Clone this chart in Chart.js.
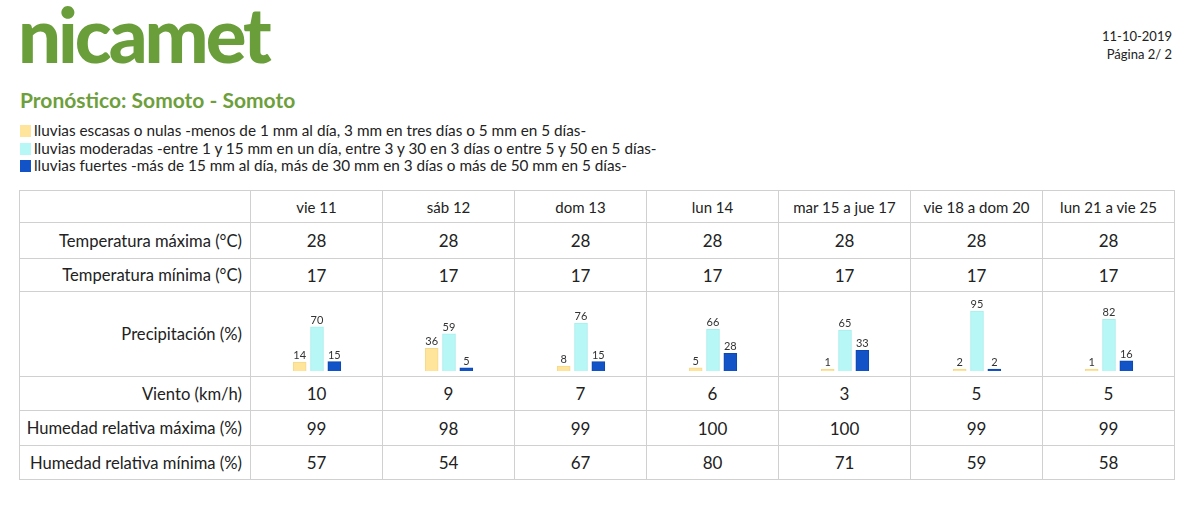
<!DOCTYPE html>
<html>
<head>
<meta charset="utf-8">
<script src="https://cdn.jsdelivr.net/npm/chart.js@4"></script>
<style>
  body { margin: 0; width: 1200px; height: 521px; background: #fff; font-family: "Lato", "Open Sans", sans-serif; color: #222; position: relative; overflow: hidden; }
  .logo { position: absolute; left: 18px; top: 0; padding-right: 8px; font-size: 76px; line-height: 68px; font-weight: 900; color: #6a9e3a; letter-spacing: -3px; }
  .fecha { position: absolute; right: 28px; top: 27px; font-size: 13px; line-height: 18px; text-align: right; }
  .titulo { position: absolute; left: 20px; top: 87px; font-size: 21px; font-weight: bold; color: #6e9f3c; }
  .leyenda { position: absolute; left: 20px; top: 122px; font-size: 15.3px; line-height: 17.5px; }
  .leyenda span { display: inline-block; width: 11px; height: 12px; margin-right: 3px; vertical-align: -1px; }
  table { position: absolute; left: 19px; top: 190px; border-collapse: collapse; table-layout: fixed; }
  td { border: 1px solid #d0d0d0; text-align: center; font-size: 17px; padding: 0; }
  td.lbl { text-align: right; padding-right: 8px; font-size: 16.6px; }
  tr.cab td { font-size: 15px; height: 31px; }
  td.prec { position: relative; height: 84px; }
  td.prec canvas { position: absolute; left: 0; top: 0; }
</style>
</head>
<body>
<div class="logo">nicamet</div>
<div class="fecha">11-10-2019<br>Página 2/ 2</div>
<div class="titulo">Pronóstico: Somoto - Somoto</div>
<div class="leyenda">
  <div><span style="background:#ffe49b"></span>lluvias escasas o nulas -menos de 1 mm al día, 3 mm en tres días o 5 mm en 5 días-</div>
  <div><span style="background:#b7f7f5"></span>lluvias moderadas -entre 1 y 15 mm en un día, entre 3 y 30 en 3 días o entre 5 y 50 en 5 días-</div>
  <div><span style="background:#1254c8"></span>lluvias fuertes -más de 15 mm al día, más de 30 mm en 3 días o más de 50 mm en 5 días-</div>
</div>
<table id="tabla"></table>

<script>
// datos del pronóstico
var dias = ["vie 11", "sáb 12", "dom 13", "lun 14", "mar 15 a jue 17", "vie 18 a dom 20", "lun 21 a vie 25"];
var tempMax = [28, 28, 28, 28, 28, 28, 28];
var tempMin = [17, 17, 17, 17, 17, 17, 17];
var lluviaEscasa = [14, 36, 8, 5, 1, 2, 1];
var lluviaModerada = [70, 59, 76, 66, 65, 95, 82];
var lluviaFuerte = [15, 5, 15, 28, 33, 2, 16];
var viento = [10, 9, 7, 6, 3, 5, 5];
var humMax = [99, 98, 99, 100, 100, 99, 99];
var humMin = [57, 54, 67, 80, 71, 59, 58];
var tipos = ["escasas", "moderadas", "fuertes"];
var colores = ["#ffe49b", "#b7f7f5", "#1254c8"];
var bordes = ["#f5d98a", "#a8eeec", "#0e47b0"];

// armar la tabla
var html = '<colgroup><col style="width:231px">';
for (var i = 0; i < dias.length; i++) html += '<col style="width:132px">';
html += '</colgroup>';

function fila(titulo, valores, alto) {
  var f = '<tr style="height:' + alto + 'px"><td class="lbl">' + titulo + '</td>';
  for (var i = 0; i < valores.length; i++) f += '<td>' + valores[i] + '</td>';
  return f + '</tr>';
}

html += '<tr class="cab"><td></td>';
for (var i = 0; i < dias.length; i++) html += '<td>' + dias[i] + '</td>';
html += '</tr>';
html += fila("Temperatura máxima (°C)", tempMax, 36);
html += fila("Temperatura mínima (°C)", tempMin, 33);
html += '<tr><td class="lbl">Precipitación (%)</td>';
for (var i = 0; i < dias.length; i++) html += '<td class="prec"><canvas id="prec' + i + '" width="132" height="84"></canvas></td>';
html += '</tr>';
html += fila("Viento (km/h)", viento, 34);
html += fila("Humedad relativa máxima (%)", humMax, 35);
html += fila("Humedad relativa mínima (%)", humMin, 34);
document.getElementById("tabla").innerHTML = html;

// etiquetas de valor encima de cada barra
var etiquetas = {
  id: "etiquetas",
  afterDatasetsDraw: function (chart) {
    var ctx = chart.ctx;
    var meta = chart.getDatasetMeta(0);
    ctx.save();
    ctx.font = "11px Lato, sans-serif";
    ctx.fillStyle = "#333";
    ctx.textAlign = "center";
    ctx.textBaseline = "bottom";
    meta.data.forEach(function (bar, j) {
      ctx.fillText(chart.data.datasets[0].data[j], bar.x, bar.y - 1);
    });
    ctx.restore();
  },
};

// barras de precipitación por columna
for (var i = 0; i < dias.length; i++) {
  new Chart(document.getElementById("prec" + i), {
    type: "bar",
    data: {
      labels: tipos,
      datasets: [
        {
          data: [lluviaEscasa[i], lluviaModerada[i], lluviaFuerte[i]],
          backgroundColor: colores,
          borderColor: bordes,
          borderWidth: 1,
          barThickness: 13,
          minBarLength: 2,
        },
      ],
    },
    options: {
      responsive: false,
      animation: false,
      layout: { padding: { left: 40, right: 40, top: 16, bottom: 5 } },
      plugins: { legend: { display: false }, tooltip: { enabled: false } },
      scales: {
        x: { display: false },
        y: { display: false, min: 0, max: 100 },
      },
    },
    plugins: [etiquetas],
  });
}
</script>
</body>
</html>
